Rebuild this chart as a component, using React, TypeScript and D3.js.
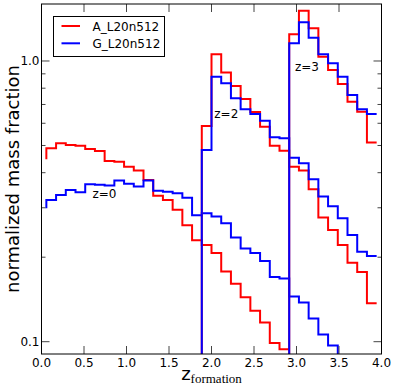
import React from 'react';
import * as d3 from 'd3';

// histogram binning: 35 bins over 0..4
const BIN_COUNT = 35;
const X_MAX = 4;

// A_L20n512 (red)
const redZ0Start = 0;
const redZ0 = [0.447, 0.489, 0.509, 0.502, 0.499, 0.486, 0.478, 0.440, 0.438, 0.420, 0.407, 0.377, 0.331, 0.320, 0.295, 0.260, 0.230, 0.221, 0.207, 0.178, 0.161, 0.144, 0.129, 0.117, 0.099, 0.094];
const redZ2Start = 16;
const redZ2 = [0, 0.587, 1.057, 0.909, 0.815, 0.732, 0.658, 0.583, 0.499, 0.479, 0.420, 0.407, 0.349, 0.277, 0.250, 0.221, 0.191, 0.177, 0.137];
const redZ3Start = 25;
const redZ3 = [0, 1.245, 1.511, 1.307, 1.036, 0.929, 0.828, 0.716, 0.660, 0.512];

// G_L20n512 (blue)
const blueZ0Start = 0;
const blueZ0 = [0.299, 0.320, 0.333, 0.347, 0.341, 0.364, 0.362, 0.360, 0.375, 0.365, 0.357, 0.375, 0.345, 0.342, 0.338, 0.326, 0.282, 0.287, 0.279, 0.264, 0.235, 0.215, 0.207, 0.194, 0.170, 0.168, 0.145, 0.138, 0.121, 0.106, 0.097, 0];
const blueZ2Start = 16;
const blueZ2 = [0, 0.482, 0.879, 0.833, 0.736, 0.673, 0.647, 0.613, 0.535, 0.531, 0.452, 0.432, 0.379, 0.329, 0.304, 0.275, 0.240, 0.209, 0.202];
const blueZ3Start = 25;
const blueZ3 = [0, 1.156, 1.374, 1.211, 1.057, 0.981, 0.879, 0.757, 0.673, 0.647];

const legendNames = ['A_L20n512', 'G_L20n512'];
const colors = ['#ff0000', '#0000ff'];

const xTicks = [0, 0.5, 1.0, 1.5, 2.0, 2.5, 3.0, 3.5, 4.0];
const yMajorTicks = [0.1, 1.0];
const yMinorTicks = [0.2, 0.3, 0.4, 0.5, 0.6, 0.7, 0.8, 0.9];

const annotations = [
  { text: 'z=0', x: 0.60, y: 0.325 },
  { text: 'z=2', x: 2.033, y: 0.627 },
  { text: 'z=3', x: 2.982, y: 0.921 },
];

const W = 395, H = 389;
const L = 41.5, R = 381.5, T = 4, B = 354;

export default function App() {
  const x = d3.scaleLinear().domain([0, X_MAX]).range([L, R]);
  const y = d3.scaleLog().domain([0.0904, 1.596]).range([B, T]);
  const binW = X_MAX / BIN_COUNT;
  const center = (k: number) => (k + 0.5) * binW;

  const line = d3
    .line<[number, number]>()
    .x((d) => x(d[0]))
    .y((d) => (d[1] > 0 ? y(d[1]) : B + 400))
    .curve(d3.curveStepBefore);

  const mk = (start: number, vals: number[]) =>
    vals.map((v, i) => [center(start + i), v] as [number, number]);

  const series = [
    { color: colors[0], pts: mk(redZ0Start, redZ0) },
    { color: colors[1], pts: mk(blueZ0Start, blueZ0) },
    { color: colors[0], pts: mk(redZ2Start, redZ2) },
    { color: colors[1], pts: mk(blueZ2Start, blueZ2) },
    { color: colors[0], pts: mk(redZ3Start, redZ3) },
    { color: colors[1], pts: mk(blueZ3Start, blueZ3) },
  ];

  const fmt = d3.format('.1f');
  const font = '"DejaVu Sans", sans-serif';
  const tickColor = '#444';

  return (
    <svg width={W} height={H} style={{ position: 'absolute', left: 0, top: 0, background: '#fff' }}>
      <defs>
        <clipPath id="plot">
          <rect x={L} y={T} width={R - L} height={B - T} />
        </clipPath>
      </defs>
      <rect x={0} y={0} width={W} height={H} fill="#fff" />
      <g clipPath="url(#plot)">
        {series.map((s, i) => (
          <path key={i} d={line(s.pts) || ''} fill="none" stroke={s.color} strokeWidth={2} />
        ))}
      </g>
      {xTicks.map((t) => (
        <g key={'x' + t}>
          <line x1={x(t)} x2={x(t)} y1={B} y2={B - 8} stroke={tickColor} strokeWidth={1} />
          <line x1={x(t)} x2={x(t)} y1={T} y2={T + 8} stroke={tickColor} strokeWidth={1} />
          <text x={x(t)} y={366.5} textAnchor="middle" fontFamily={font} fontSize={12} fill="#000">
            {fmt(t)}
          </text>
        </g>
      ))}
      {yMajorTicks.map((t) => (
        <g key={'y' + t}>
          <line x1={L} x2={L + 8} y1={y(t)} y2={y(t)} stroke={tickColor} strokeWidth={1} />
          <line x1={R} x2={R - 8} y1={y(t)} y2={y(t)} stroke={tickColor} strokeWidth={1} />
          <text x={39.5} y={y(t)} dy="0.36em" textAnchor="end" fontFamily={font} fontSize={12} fill="#000">
            {fmt(t)}
          </text>
        </g>
      ))}
      {yMinorTicks.map((t) => (
        <g key={'ym' + t}>
          <line x1={L} x2={L + 4} y1={y(t)} y2={y(t)} stroke={tickColor} strokeWidth={1} />
          <line x1={R} x2={R - 4} y1={y(t)} y2={y(t)} stroke={tickColor} strokeWidth={1} />
        </g>
      ))}
      <rect x={L} y={T} width={R - L} height={B - T} fill="none" stroke="#000" strokeWidth={1} />
      {annotations.map((a) => (
        <text key={a.text} x={x(a.x)} y={y(a.y)} fontFamily={font} fontSize={12} fill="#000">
          {a.text}
        </text>
      ))}
      <rect x={53.5} y={16.5} width={111} height={40} fill="#fff" stroke="#000" strokeWidth={1} />
      {legendNames.map((n, i) => (
        <g key={n}>
          <line x1={61.5} x2={80} y1={26 + i * 17.3} y2={26 + i * 17.3} stroke={colors[i]} strokeWidth={2} />
          <text x={92.5} y={30.5 + i * 17.3} fontFamily={font} fontSize={12} fill="#000">
            {n}
          </text>
        </g>
      ))}
      <text x={(L + R) / 2} y={380} textAnchor="middle" fill="#000">
        <tspan fontFamily={font} fontSize={18}>z</tspan>
        <tspan fontFamily='"Liberation Serif", serif' fontSize={13} dy={3}>formation</tspan>
      </text>
      <text
        transform={`translate(19,${(T + B) / 2}) rotate(-90)`}
        textAnchor="middle"
        fontFamily={font}
        fontSize={18}
        fill="#000"
      >
        normalized mass fraction
      </text>
    </svg>
  );
}
